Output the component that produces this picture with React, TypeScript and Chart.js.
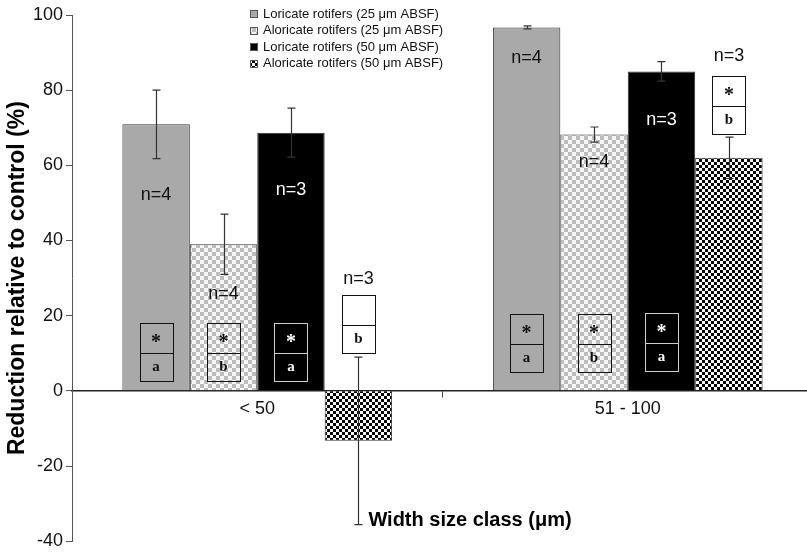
import React, { useEffect, useRef } from 'react';
import { Chart, registerables } from 'chart.js';

Chart.register(...registerables);

// Width size classes (x categories)
const categories = ['< 50', '51 - 100'];

// Series names
const seriesNames = [
  'Loricate rotifers (25 μm ABSF)',
  'Aloricate rotifers (25 μm ABSF)',
  'Loricate rotifers (50 μm ABSF)',
  'Aloricate rotifers (50 μm ABSF)',
];

// Mean reduction relative to control (%)
const loricate25 = [70.9, 96.7];
const aloricate25 = [39.0, 68.2];
const loricate50 = [68.7, 85.0];
const aloricate50 = [-13.3, 62.0];

// Error (± SD)
const loricate25Err = [9.1, 0.4];
const aloricate25Err = [8.0, 2.0];
const loricate50Err = [6.5, 2.6];
const aloricate50Err = [22.3, 5.5];

// Replicates
const loricate25N = [4, 4];
const aloricate25N = [4, 4];
const loricate50N = [3, 3];
const aloricate50N = [3, 3];

// Significance marks: star (different from control) and group letter
const loricate25Star = [true, true];
const aloricate25Star = [true, true];
const loricate50Star = [true, true];
const aloricate50Star = [false, true];
const loricate25Letter = ['a', 'a'];
const aloricate25Letter = ['b', 'b'];
const loricate50Letter = ['a', 'a'];
const aloricate50Letter = ['b', 'b'];

// Y-axis ticks
const yMin = -40;
const yMax = 100;
const yStep = 20;

// Annotation anchors (value-axis units)
const nLabelAt = [
  [52.0, 88.6],
  [25.7, 61.0],
  [53.3, 72.1],
  [29.7, 89.1],
];
const boxBottomAt = [
  [2.7, 5.1],
  [2.7, 5.1],
  [2.7, 5.4],
  [10.1, 68.4],
];
const BOX_SPAN = 15.4;

const values = [loricate25, aloricate25, loricate50, aloricate50];
const errors = [loricate25Err, aloricate25Err, loricate50Err, aloricate50Err];
const sampleN = [loricate25N, aloricate25N, loricate50N, aloricate50N];
const stars = [loricate25Star, aloricate25Star, loricate50Star, aloricate50Star];
const letters = [loricate25Letter, aloricate25Letter, loricate50Letter, aloricate50Letter];

const SANS = '"Liberation Sans", Arial, sans-serif';
const SERIF = '"Liberation Serif", "Times New Roman", serif';

function makePattern(size: number, draw: (c: CanvasRenderingContext2D) => void): CanvasPattern {
  const cv = document.createElement('canvas');
  cv.width = size;
  cv.height = size;
  const c = cv.getContext('2d') as CanvasRenderingContext2D;
  draw(c);
  return c.createPattern(cv, 'repeat') as CanvasPattern;
}

export default function App() {
  const ref = useRef<HTMLCanvasElement>(null);

  useEffect(() => {
    const canvas = ref.current;
    if (!canvas) return;

    const lightChecker = makePattern(8, (c) => {
      c.fillStyle = '#f6f6f6';
      c.fillRect(0, 0, 8, 8);
      c.fillStyle = '#bdbdbd';
      c.fillRect(0, 0, 4, 4);
      c.fillRect(4, 4, 4, 4);
    });
    const darkChecker = makePattern(6, (c) => {
      c.fillStyle = '#ffffff';
      c.fillRect(0, 0, 6, 6);
      c.fillStyle = '#000000';
      c.fillRect(0, 0, 3, 3);
      c.fillRect(3, 3, 3, 3);
    });
    const fills: (string | CanvasPattern)[] = ['#a9a9a9', lightChecker, '#000000', darkChecker];

    const overlay = {
      id: 'overlay',
      afterDatasetsDraw(chart: any) {
        const ctx: CanvasRenderingContext2D = chart.ctx;
        const ys = chart.scales.y;
        const area = chart.chartArea;
        ctx.save();

        // error bars
        ctx.strokeStyle = '#333';
        ctx.lineWidth = 1.2;
        values.forEach((series, s) => {
          const meta = chart.getDatasetMeta(s);
          series.forEach((v, c) => {
            const bar = meta.data[c];
            const x = Math.round(bar.x) + 0.5;
            const yTop = ys.getPixelForValue(v + errors[s][c]);
            const yBot = ys.getPixelForValue(v - errors[s][c]);
            ctx.beginPath();
            ctx.moveTo(x, yTop);
            ctx.lineTo(x, yBot);
            ctx.moveTo(x - 4, yTop);
            ctx.lineTo(x + 4, yTop);
            ctx.moveTo(x - 4, yBot);
            ctx.lineTo(x + 4, yBot);
            ctx.stroke();
          });
        });

        // replicate labels
        ctx.font = `18px ${SANS}`;
        ctx.textAlign = 'center';
        ctx.textBaseline = 'middle';
        values.forEach((series, s) => {
          const meta = chart.getDatasetMeta(s);
          series.forEach((_v, c) => {
            const bar = meta.data[c];
            ctx.fillStyle = s === 2 ? '#ffffff' : '#111111';
            ctx.fillText(`n=${sampleN[s][c]}`, bar.x, ys.getPixelForValue(nLabelAt[s][c]));
          });
        });

        // significance boxes
        values.forEach((series, s) => {
          const meta = chart.getDatasetMeta(s);
          series.forEach((_v, c) => {
            const bar = meta.data[c];
            const w = Math.round(bar.width * 0.49);
            const left = Math.round(bar.x - w / 2) + 0.5;
            const yb = Math.round(ys.getPixelForValue(boxBottomAt[s][c])) + 0.5;
            const yt = Math.round(ys.getPixelForValue(boxBottomAt[s][c] + BOX_SPAN)) + 0.5;
            const ym = Math.round((yb + yt) / 2) + 0.5;
            const onBlack = s === 2;
            const outside = s === 3;
            if (outside) {
              ctx.fillStyle = '#ffffff';
              ctx.fillRect(left, yt, w, yb - yt);
            }
            ctx.strokeStyle = onBlack ? '#cfcfcf' : '#111111';
            ctx.lineWidth = 1;
            ctx.strokeRect(left, yt, w, yb - yt);
            ctx.beginPath();
            ctx.moveTo(left, ym);
            ctx.lineTo(left + w, ym);
            ctx.stroke();
            ctx.fillStyle = onBlack ? '#ffffff' : '#111111';
            ctx.textAlign = 'center';
            ctx.textBaseline = 'middle';
            if (stars[s][c]) {
              ctx.font = `bold 20px ${SERIF}`;
              ctx.fillText('*', bar.x, (yt + ym) / 2 + 4);
            }
            ctx.font = `bold 15px ${SERIF}`;
            ctx.fillText(letters[s][c], bar.x, (ym + yb) / 2);
          });
        });

        // x-axis title placed inside the plot
        ctx.font = `bold 20px ${SANS}`;
        ctx.fillStyle = '#000000';
        ctx.textAlign = 'left';
        ctx.textBaseline = 'middle';
        ctx.fillText('Width size class (μm)', area.left + 0.4 * (area.right - area.left), ys.getPixelForValue(-34.5));

        // legend
        const lx = 250;
        const ly0 = 14;
        const step = 16.5;
        ctx.font = `13px ${SANS}`;
        seriesNames.forEach((name, s) => {
          const y = ly0 + s * step;
          ctx.fillStyle = fills[s] as any;
          ctx.fillRect(lx, Math.round(y - 4), 7, 7);
          ctx.strokeStyle = '#555';
          ctx.lineWidth = 1;
          ctx.strokeRect(lx + 0.5, Math.round(y - 4) + 0.5, 7, 7);
          ctx.fillStyle = '#111111';
          ctx.textAlign = 'left';
          ctx.fillText(name, lx + 13, y);
        });

        ctx.restore();
      },
    };

    const chart = new Chart(canvas, {
      type: 'bar',
      data: {
        labels: categories,
        datasets: values.map((v, s) => ({
          label: seriesNames[s],
          data: v,
          backgroundColor: fills[s] as any,
          borderColor: '#333333',
          borderWidth: 1,
          categoryPercentage: 0.728,
          barPercentage: 1.0,
        })),
      },
      options: {
        animation: false,
        responsive: false,
        layout: { padding: { top: 15, bottom: 12, left: 0, right: 2 } },
        plugins: {
          legend: { display: false },
          tooltip: { enabled: false },
        },
        scales: {
          x: {
            type: 'category',
            position: { y: 0 } as any,
            grid: { drawOnChartArea: false, drawTicks: true, tickLength: 6, color: '#444444' },
            border: { display: true, color: '#222222', width: 1.5 },
            ticks: { color: '#111111', padding: 1, font: { family: SANS, size: 18 } },
          },
          y: {
            min: yMin,
            max: yMax,
            ticks: { stepSize: yStep, color: '#111111', padding: 3, font: { family: SANS, size: 18 } },
            grid: { drawOnChartArea: false, drawTicks: true, tickLength: 6, color: '#555555' },
            border: { display: true, color: '#555555', width: 1 },
            title: {
              display: true,
              text: 'Reduction relative to control (%)',
              color: '#000000',
              font: { family: SANS, size: 23, weight: 'bold' },
              padding: { top: 4, bottom: 0 },
            },
            afterFit: (scale: any) => {
              scale.width = 72;
            },
          },
        },
      },
      plugins: [overlay],
    });

    return () => chart.destroy();
  }, []);

  return (
    <div style={{ position: 'absolute', left: 0, top: 0, width: 807, height: 555, overflow: 'hidden', background: '#fff' }}>
      <canvas ref={ref} width={815} height={555} style={{ display: 'block' }} />
    </div>
  );
}
